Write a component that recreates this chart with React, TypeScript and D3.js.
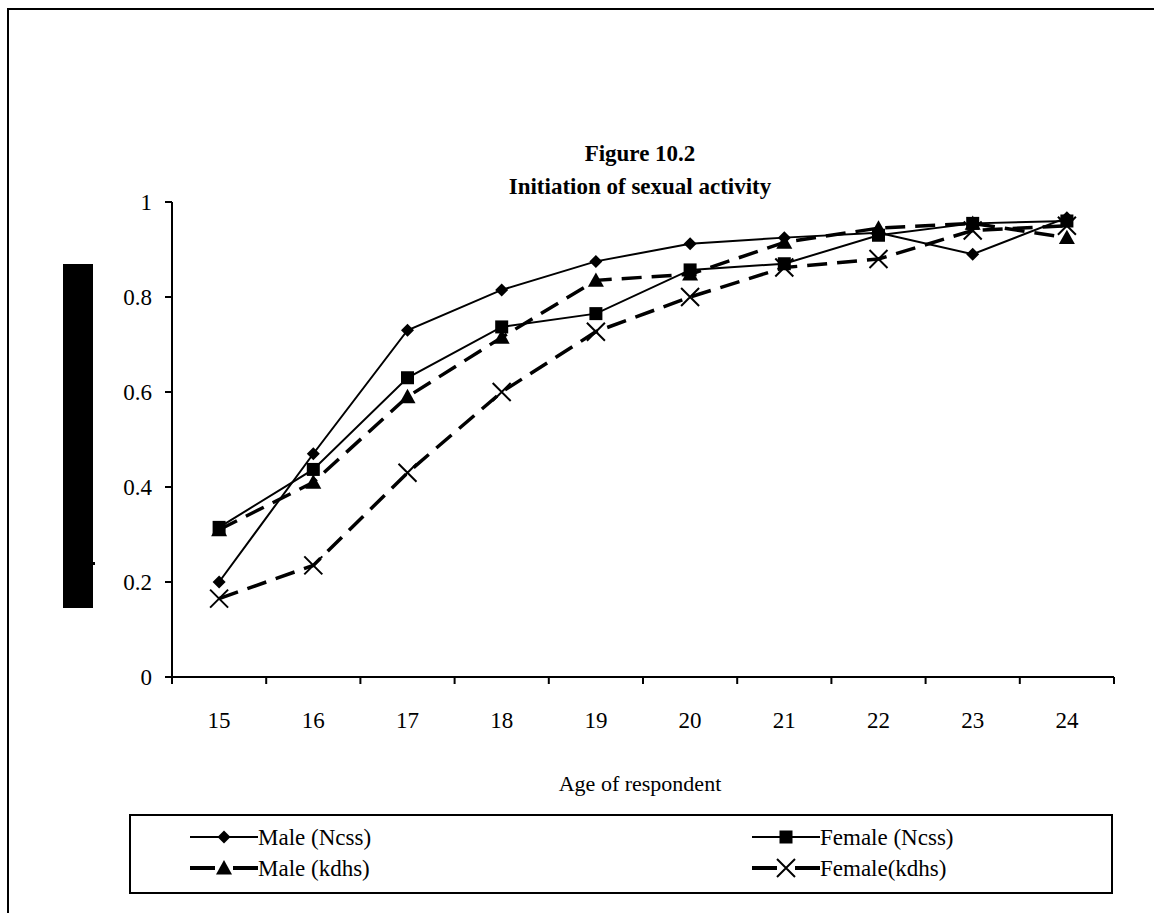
import React from "react";
import * as d3 from "d3";

const ages = ["15", "16", "17", "18", "19", "20", "21", "22", "23", "24"];
const maleNcss = [0.2, 0.47, 0.73, 0.815, 0.875, 0.912, 0.925, 0.935, 0.89, 0.967];
const femaleNcss = [0.315, 0.437, 0.63, 0.737, 0.765, 0.857, 0.87, 0.93, 0.955, 0.96];
const maleKdhs = [0.31, 0.41, 0.59, 0.715, 0.835, 0.848, 0.915, 0.945, 0.955, 0.925];
const femaleKdhs = [0.165, 0.235, 0.43, 0.6, 0.727, 0.8, 0.862, 0.88, 0.94, 0.95];
const yTicks = [0, 0.2, 0.4, 0.6, 0.8, 1];
const seriesNames = ["Male (Ncss)", "Female (Ncss)", "Male (kdhs)", "Female(kdhs)"];

const FONT = "Liberation Serif, Times New Roman, DejaVu Serif, serif";

type Series = { name: string; values: number[]; marker: string; dashed: boolean };

const series: Series[] = [
  { name: seriesNames[0], values: maleNcss, marker: "diamond", dashed: false },
  { name: seriesNames[1], values: femaleNcss, marker: "square", dashed: false },
  { name: seriesNames[2], values: maleKdhs, marker: "triangle", dashed: true },
  { name: seriesNames[3], values: femaleKdhs, marker: "x", dashed: true },
];

function Marker({ type, x, y }: { type: string; x: number; y: number }) {
  if (type === "diamond") {
    const s = 6.5;
    return <path d={`M${x},${y - s}L${x + s},${y}L${x},${y + s}L${x - s},${y}Z`} fill="#000" />;
  }
  if (type === "square") {
    const s = 6.5;
    return <rect x={x - s} y={y - s} width={2 * s} height={2 * s} fill="#000" />;
  }
  if (type === "triangle") {
    const s = 8;
    return <path d={`M${x},${y - s}L${x + s},${y + s * 0.8}L${x - s},${y + s * 0.8}Z`} fill="#000" />;
  }
  const s = 9;
  return (
    <path
      d={`M${x - s},${y - s}L${x + s},${y + s}M${x - s},${y + s}L${x + s},${y - s}`}
      stroke="#000"
      strokeWidth={2}
      fill="none"
    />
  );
}

export default function App() {
  const W = 1154;
  const H = 913;
  const left = 172;
  const right = 1114;
  const top = 202;
  const bottom = 677;

  const x = d3.scaleBand().domain(ages).range([left, right]).padding(0);
  const y = d3.scaleLinear().domain([0, 1]).range([bottom, top]);
  const cx = (a: string) => (x(a) as number) + x.bandwidth() / 2;

  const line = d3
    .line<number>()
    .x((_, i) => cx(ages[i]))
    .y((d) => y(d));

  const tickXs = d3.range(ages.length + 1).map((i) => left + i * x.bandwidth());

  const legendItems = [
    { s: series[0], lx: 190, ly: 837 },
    { s: series[1], lx: 752, ly: 837 },
    { s: series[2], lx: 190, ly: 868 },
    { s: series[3], lx: 752, ly: 868 },
  ];

  const ts = { fontFamily: FONT };

  return (
    <svg width={W} height={H} style={{ position: "absolute", left: 0, top: 0, fontFamily: FONT }}>
      <rect x={0} y={0} width={W} height={H} fill="#fff" />
      {/* outer border */}
      <path d={`M8,${H}L8,9L${W},9`} stroke="#000" strokeWidth={2} fill="none" />

      <text x={640} y={161} textAnchor="middle" fontSize={23} fontWeight="bold" style={ts}>
        Figure 10.2
      </text>
      <text x={640} y={194} textAnchor="middle" fontSize={23} fontWeight="bold" style={ts}>
        Initiation of sexual activity
      </text>

      {/* redaction bar */}
      <rect x={63} y={264} width={30} height={344} fill="#000" />
      <rect x={93} y={562} width={2} height={3} fill="#000" />

      {/* y axis */}
      <line x1={left} x2={left} y1={top} y2={bottom} stroke="#000" strokeWidth={2} />
      {yTicks.map((t) => (
        <g key={t}>
          <line x1={left - 7} x2={left} y1={y(t)} y2={y(t)} stroke="#000" strokeWidth={2} />
          <text x={left - 20} y={y(t) + 8} textAnchor="end" fontSize={23} style={ts}>
            {String(t)}
          </text>
        </g>
      ))}

      {/* x axis */}
      <line x1={left - 1} x2={right} y1={bottom} y2={bottom} stroke="#000" strokeWidth={2} />
      {tickXs.map((tx, i) => (
        <line key={i} x1={tx} x2={tx} y1={bottom} y2={bottom + 7} stroke="#000" strokeWidth={2} />
      ))}
      {ages.map((a) => (
        <text key={a} x={cx(a)} y={bottom + 51} textAnchor="middle" fontSize={23} style={ts}>
          {a}
        </text>
      ))}
      <text x={640} y={791} textAnchor="middle" fontSize={22} style={ts}>
        Age of respondent
      </text>

      {/* series */}
      {series.map((s) => (
        <g key={s.name}>
          <path
            d={line(s.values) || ""}
            fill="none"
            stroke="#000"
            strokeWidth={s.dashed ? 3.5 : 2}
            strokeDasharray={s.dashed ? "20 10" : undefined}
          />
          {s.values.map((v, i) => (
            <Marker key={i} type={s.marker} x={cx(ages[i])} y={y(v)} />
          ))}
        </g>
      ))}

      {/* legend */}
      <rect x={130} y={815} width={982} height={78} fill="none" stroke="#000" strokeWidth={2} />
      {legendItems.map(({ s, lx, ly }) => (
        <g key={s.name}>
          {s.dashed ? (
            <>
              <line x1={lx} x2={lx + 25} y1={ly} y2={ly} stroke="#000" strokeWidth={4} />
              <line x1={lx + 43} x2={lx + 68} y1={ly} y2={ly} stroke="#000" strokeWidth={4} />
            </>
          ) : (
            <line x1={lx} x2={lx + 68} y1={ly} y2={ly} stroke="#000" strokeWidth={2} />
          )}
          <Marker type={s.marker} x={lx + 34} y={ly} />
          <text x={lx + 68} y={ly + 8} fontSize={23} style={ts}>
            {s.name}
          </text>
        </g>
      ))}
    </svg>
  );
}
